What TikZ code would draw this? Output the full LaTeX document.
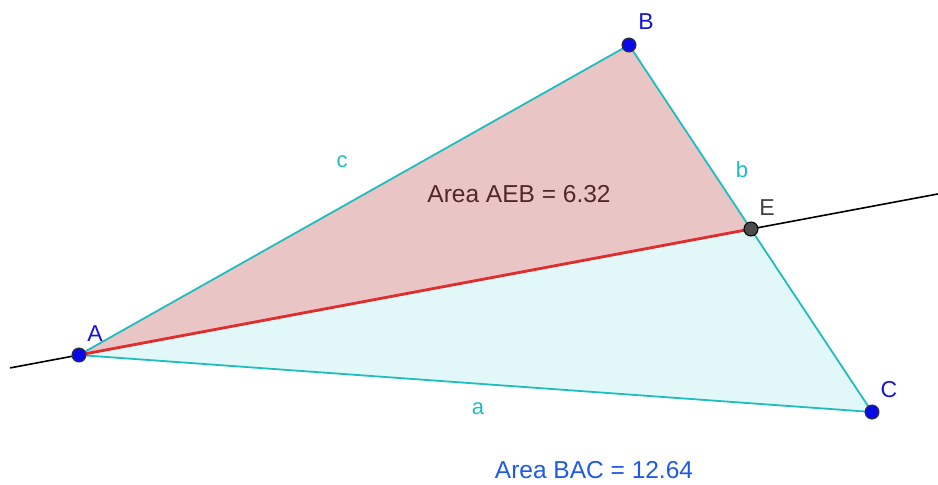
\documentclass[tikz,border=0pt]{standalone}
\usepackage{fontspec}
\usetikzlibrary{calc}
\setmainfont{Liberation Sans}
\definecolor{edgecyan}{RGB}{30,190,190}
\definecolor{pinkfill}{RGB}{234,197,197}
\definecolor{cyanfill}{RGB}{226,248,248}
\definecolor{redline}{RGB}{225,45,45}
\definecolor{ptblue}{RGB}{10,10,230}
\definecolor{lblblue}{RGB}{20,20,220}
\definecolor{areablue}{RGB}{30,90,230}
\definecolor{areadark}{RGB}{80,40,40}
\tikzset{
  pt/.style={circle,draw=black!80,line width=1pt,fill=ptblue,inner sep=0pt,minimum size=14pt},
  ptgray/.style={circle,draw=black,line width=1pt,fill=black!70,inner sep=0pt,minimum size=14pt},
  ptlabel/.style={text=lblblue,font=\fontsize{23}{27}\selectfont,inner sep=0pt},
  sidelabel/.style={text=edgecyan,font=\fontsize{22}{26}\selectfont,inner sep=0pt},
  side/.style={draw=edgecyan,line width=1.8pt},
}
\begin{document}
\begin{tikzpicture}[x=1pt,y=-1pt]
\useasboundingbox (0,0) rectangle (938,485);
\fill[white] (0,0) rectangle (938,485);
\coordinate (A) at (79,355);
\coordinate (B) at (629,45);
\coordinate (C) at (872,412);
\coordinate (E) at (751,229);
\coordinate (L1) at ($(A)!-0.1027!(E)$);
\coordinate (L2) at ($(A)!1.279!(E)$);
% fills
\fill[cyanfill] (A) -- (E) -- (C) -- cycle;
\fill[pinkfill] (A) -- (B) -- (E) -- cycle;
% line through A and E
\draw[black,line width=1.6pt] (L1) -- (L2);
% sides
\draw[side] (A) -- (B);
\draw[side] (B) -- (C);
\draw[side] (A) -- (C);
\draw[redline,line width=2.8pt] (A) -- (E);
% points
\node[pt] (nA) at (A) {};
\node[pt] (nB) at (B) {};
\node[pt] (nC) at (C) {};
\node[ptgray] (nE) at (E) {};
% labels
\node[ptlabel] (lA) at (95,334) {A};
\node[ptlabel] (lB) at (646,22) {B};
\node[ptlabel] (lC) at (889,390) {C};
\node[ptlabel,text=black!75] (lE) at (767,208) {E};
\node[sidelabel] (la) at (478,409) {a};
\node[sidelabel] (lb) at (742,170) {b};
\node[sidelabel] (lc) at (342,162) {c};
\node[text=areadark,font=\fontsize{24.5}{28}\selectfont,inner sep=0pt] (t1) at (519,194) {Area AEB = 6.32};
\node[text=areablue,font=\fontsize{24.5}{28}\selectfont,inner sep=0pt] (t2) at (594,470) {Area BAC = 12.64};
\end{tikzpicture}
\end{document}
